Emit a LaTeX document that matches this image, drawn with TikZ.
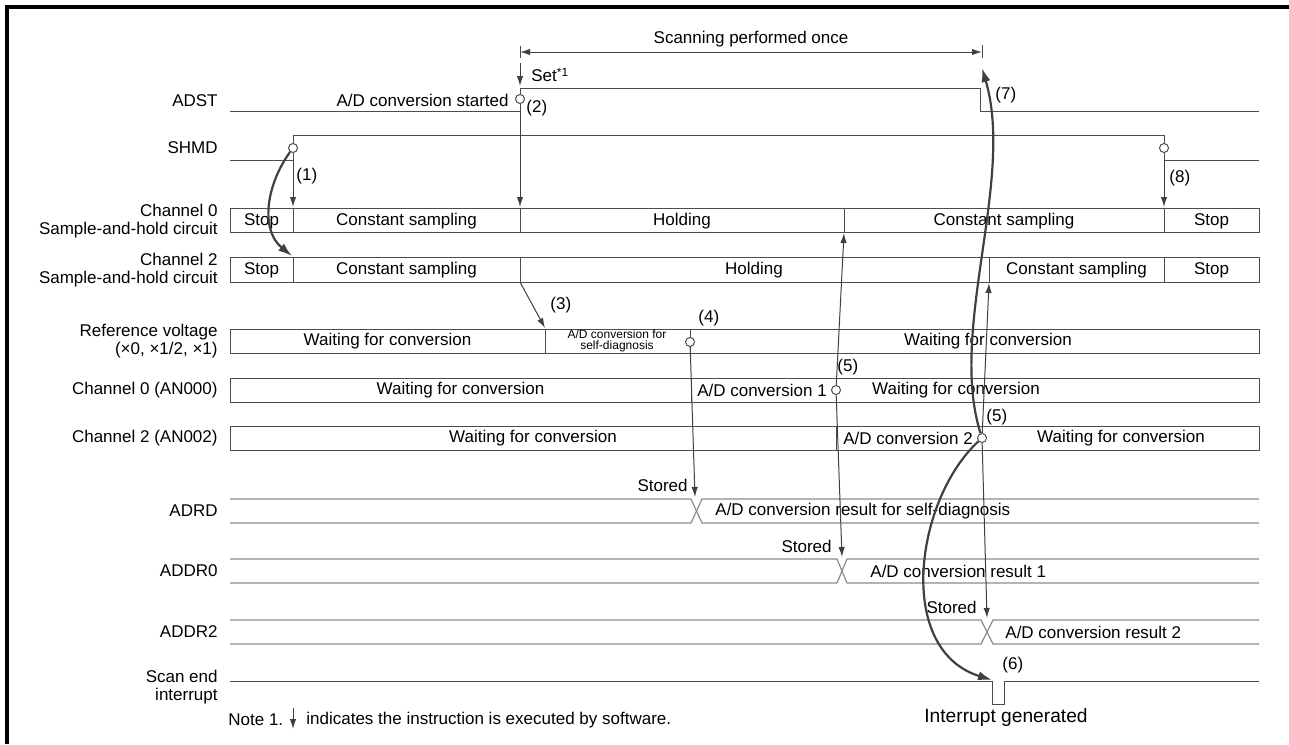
\documentclass[tikz,border=0pt]{standalone}
\usepackage{fontspec}
\setmainfont{Liberation Sans}
\usetikzlibrary{arrows.meta}
\begin{document}
\begin{tikzpicture}[x=0.5pt,y=-0.5pt,
  font=\fontsize{8.5}{8.7}\selectfont,
  box/.style={draw=black!70,line width=0.5pt},
  sig/.style={draw=black!70,line width=0.5pt},
  reg/.style={draw=black!45,line width=0.6pt},
  lbl/.style={anchor=east,align=right,inner sep=0pt},
  tx/.style={inner sep=0pt},
  small/.style={inner sep=0pt,align=center,font=\fontsize{6}{5.6}\selectfont},
  dot/.style={circle,draw=black!70,fill=white,line width=0.5pt,inner sep=0pt,minimum size=4.5pt},
  thinarr/.style={draw=black!75,line width=0.5pt,-{Latex[length=5pt,width=3.2pt]}},
  dimarr/.style={draw=black!75,line width=0.5pt,{Latex[length=5pt,width=3.2pt]}-{Latex[length=5pt,width=3.2pt]}},
  thickarr/.style={draw=black!75,line width=1.1pt,-{Latex[length=7pt,width=4.6pt]}},
]
\useasboundingbox (0,0) rectangle (1289,744);
\draw[line width=2pt] (7,744) -- (7,7) -- (1289,7);

% ---- left labels
\node[lbl] (lADST) at (218,101) {ADST};
\node[lbl] (lSHMD) at (218,148) {SHMD};
\node[lbl] (lC0SH) at (218,221) {Channel 0\\Sample-and-hold circuit};
\node[lbl] (lC2SH) at (218,270) {Channel 2\\Sample-and-hold circuit};
\node[lbl] (lREF) at (218,341) {Reference voltage\\(×0, ×1/2, ×1)};
\node[lbl] (lC0AN) at (218,390) {Channel 0 (AN000)};
\node[lbl] (lC2AN) at (218,438) {Channel 2 (AN002)};
\node[lbl] (lADRD) at (218,511) {ADRD};
\node[lbl] (lADDR0) at (218,571) {ADDR0};
\node[lbl] (lADDR2) at (218,632) {ADDR2};
\node[lbl] (lSCAN) at (218,687) {Scan end\\interrupt};

% ---- scanning performed once
\coordinate (sL) at (520,52);
\coordinate (sR) at (982,52);
\draw[sig] (520,46) -- (520,58);
\draw[sig] (982,45) -- (982,58);
\draw[dimarr] (sL) -- (sR);
\node[tx] (tscan) at (751,39) {Scanning performed once};

% ---- ADST and SHMD
\draw[sig] (230,111) -- (520,111) -- (520,88) -- (980,88) -- (980,111) -- (1259,111);
\draw[sig] (230,160) -- (293,160) -- (293,135) -- (1164,135) -- (1164,160) -- (1259,160);
\node[tx,anchor=east] (tstart) at (509,100) {A/D conversion started};
\node[tx,anchor=west] (tset) at (531,75) {Set\textsuperscript{*1}};
\node[tx,anchor=west] (t2) at (526,108) {(2)};
\node[tx,anchor=west] (t7) at (995,95) {(7)};
\node[tx,anchor=west] (t1) at (296,176) {(1)};
\node[tx,anchor=west] (t8) at (1169,178) {(8)};

% ---- Channel 0 sample-and-hold
\draw[box] (230,208) rectangle (1259,232);
\foreach \x in {293,520,844,1164} \draw[box] (\x,208) -- (\x,232);
\node[tx] at (261.5,221) {Stop};
\node[tx] at (406.5,221) {Constant sampling};
\node[tx] at (682,221) {Holding};
\node[tx] at (1004,221) {Constant sampling};
\node[tx] at (1211.5,221) {Stop};

% ---- Channel 2 sample-and-hold
\draw[box] (230,257) rectangle (1259,282);
\foreach \x in {293,520,989,1164} \draw[box] (\x,257) -- (\x,282);
\node[tx] at (261.5,270) {Stop};
\node[tx] at (406.5,270) {Constant sampling};
\node[tx] at (754,270) {Holding};
\node[tx] at (1076.5,270) {Constant sampling};
\node[tx] at (1211.5,270) {Stop};

% ---- Reference voltage
\draw[box] (230,329) rectangle (1259,353);
\foreach \x in {545,690} \draw[box] (\x,329) -- (\x,353);
\node[tx] at (387.5,341) {Waiting for conversion};
\node[small] at (617,341) {A/D conversion for\\self-diagnosis};
\node[tx] at (988,341) {Waiting for conversion};
\node[tx,anchor=west] (t3) at (550,305) {(3)};
\node[tx,anchor=west] (t4) at (698,318) {(4)};

% ---- Channel 0 (AN000)
\draw[box] (230,378) rectangle (1259,402);
\draw[box] (691,378) -- (691,402);
\node[tx] at (460.5,390) {Waiting for conversion};
\node[tx] at (762,390) {A/D conversion 1};
\node[tx] at (956,390) {Waiting for conversion};
\node[tx,anchor=west] (t5a) at (837,367) {(5)};

% ---- Channel 2 (AN002)
\draw[box] (230,426) rectangle (1259,450);
\draw[box] (836,426) -- (836,450);
\node[tx] at (533,438) {Waiting for conversion};
\node[tx] at (908,438) {A/D conversion 2};
\node[tx] at (1121,438) {Waiting for conversion};
\node[tx,anchor=west] (t5b) at (986,417) {(5)};

% ---- registers
\draw[reg] (230,499) -- (691,499) -- (702,523) -- (1259,523);
\draw[reg] (230,523) -- (691,523) -- (702,499) -- (1259,499);
\node[tx,anchor=west] at (715,511) {A/D conversion result for self-diagnosis};
\node[tx,anchor=east] (st1) at (688,485) {Stored};

\draw[reg] (230,559) -- (837,559) -- (847,583) -- (1259,583);
\draw[reg] (230,583) -- (837,583) -- (847,559) -- (1259,559);
\node[tx,anchor=west] at (870,571) {A/D conversion result 1};
\node[tx,anchor=east] (st2) at (832,546) {Stored};

\draw[reg] (230,620) -- (981,620) -- (993,644) -- (1259,644);
\draw[reg] (230,644) -- (981,644) -- (993,620) -- (1259,620);
\node[tx,anchor=west] at (1005,632) {A/D conversion result 2};
\node[tx,anchor=east] (st3) at (977,607) {Stored};

% ---- scan end interrupt
\draw[sig] (230,681) -- (992,681) -- (992,704) -- (1004,704) -- (1004,681) -- (1259,681);
\node[tx,anchor=west] (t6) at (1002,665) {(6)};
\node[tx,font=\fontsize{9.6}{10}\selectfont] (tint) at (1006,718) {Interrupt generated};

% ---- event circles
\node[dot] (c1) at (293,148) {};
\node[dot] (c2) at (520,99) {};
\node[dot] (c8) at (1164,148) {};
\node[dot] (c4) at (690,342) {};
\node[dot] (c5a) at (836,390) {};
\node[dot] (c5b) at (982,438) {};

% ---- coordinates for arrow ends
\coordinate (setT) at (520,63);
\coordinate (setB) at (520,86);
\coordinate (a2s) at (520,111);
\coordinate (a2e) at (520,207);
\coordinate (a1s) at (293,160);
\coordinate (a1e) at (293,207);
\coordinate (a8s) at (1164,160);
\coordinate (a8e) at (1164,207);
\coordinate (a3s) at (520,282);
\coordinate (a3e) at (545,328);
\coordinate (a4e) at (695,497);
\coordinate (a5u) at (844,233);
\coordinate (a5d) at (842,557);
\coordinate (b5u) at (989,283);
\coordinate (b5d) at (987,618);
\coordinate (k1e) at (292,256);
\coordinate (k6e) at (992,680);
\coordinate (k7e) at (982,68);

\draw[thinarr] (setT) -- (setB);
\draw[thinarr] (a2s) -- (a2e);
\draw[thinarr] (a1s) -- (a1e);
\draw[thinarr] (a8s) -- (a8e);
\draw[thinarr] (a3s) -- (a3e);
\draw[thinarr] (c4) -- (a4e);
\draw[thinarr] (c5a) -- (a5u);
\draw[thinarr] (c5a) -- (a5d);
\draw[thinarr] (c5b) -- (b5u);
\draw[thinarr] (c5b) -- (b5d);
\draw[thickarr] (c1) .. controls (266,185) and (260,230) .. (k1e);
\draw[thickarr] (c5b) .. controls (915,500) and (895,650) .. (k6e);
\draw[thickarr] (c5b) .. controls (948,330) and (1015,180) .. (k7e);

% ---- note
\node[tx,anchor=west] (note) at (228,720) {Note 1.};
\coordinate (nT) at (293,708);
\coordinate (nB) at (293,729);
\draw[thinarr] (nT) -- (nB);
\node[tx,anchor=west] (note2) at (306,720) {indicates the instruction is executed by software.};
\end{tikzpicture}
\end{document}
